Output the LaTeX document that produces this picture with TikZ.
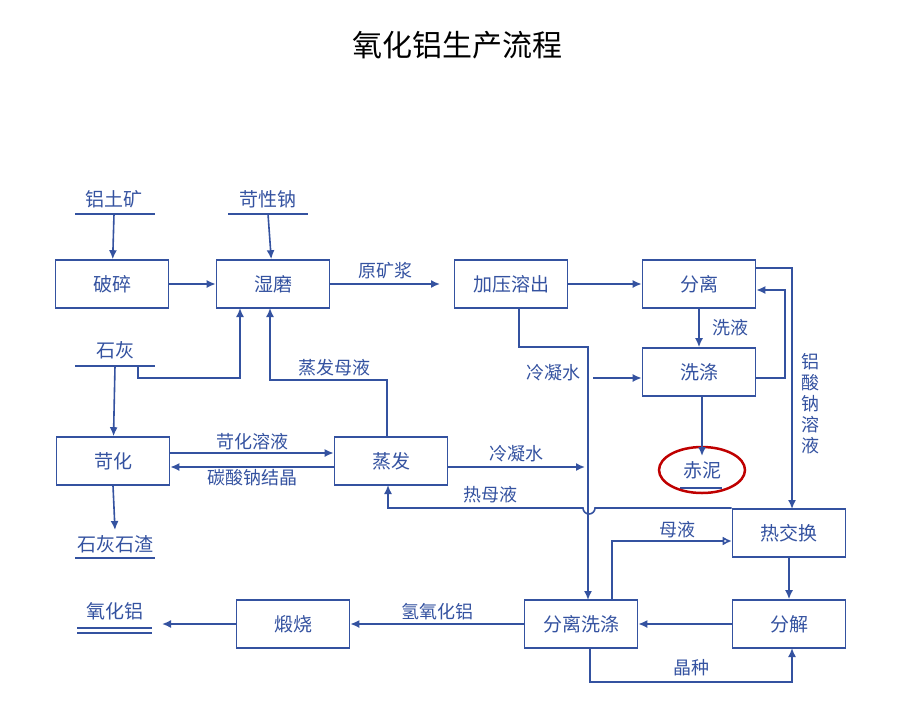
\documentclass[tikz,border=0pt]{standalone}
\usepackage{fontspec}
\setmainfont{Noto Sans CJK SC}
\usetikzlibrary{arrows.meta,calc,positioning}
\definecolor{flow}{RGB}{52,82,160}
\tikzset{
    stage/.style =  {rectangle,
                    draw=flow,
                    fill=white,
                    text=flow,
                    line width=1.6pt,
                    minimum width=113pt,
                    minimum height=48pt,
                    font=\fontsize{19}{19}\selectfont},
    feed/.style =   {text=flow,
                    inner sep=1pt,
                    font=\fontsize{19}{19}\selectfont},
    tag/.style =    {text=flow,
                    inner sep=1pt,
                    font=\fontsize{18}{18}\selectfont},
    line/.style =   {draw=flow,
                    line width=1.6pt},
    -,
    flowto/.style = {line,-{Latex[length=9pt,width=8pt]}},
    opento/.style = {line,-{Latex[open,length=9pt,width=9pt]}}}
\begin{document}
\begin{tikzpicture}[x=1pt,y=-1pt]
    \useasboundingbox (0,0) rectangle (904,720);
    \node[font=\fontsize{30}{30}\selectfont] (title) at (457,45) {氧化铝生产流程};

    \node[stage] (crush)  at (112,284) {破碎};
    \node[stage] (mill)   at (273,284) {湿磨};
    \node[stage] (digest) at (511,284) {加压溶出};
    \node[stage] (sep)    at (699,284) {分离};
    \node[stage] (wash)   at (699,372) {洗涤};
    \node[stage] (caust)  at (113,461) {苛化};
    \node[stage] (evap)   at (391,461) {蒸发};
    \node[stage] (heatx)  at (789,533) {热交换};
    \node[stage] (decomp) at (789,624) {分解};
    \node[stage] (sepwash)at (581,624) {分离洗涤};
    \node[stage] (calc)   at (293,624) {煅烧};

    \node[feed] (bauxite) at (114,199) {铝土矿};
    \node[feed] (soda)    at (268,199) {苛性钠};
    \node[feed] (lime)    at (115,350) {石灰};
    \node[feed] (slag)    at (115,544) {石灰石渣};
    \node[feed] (alumina) at (115,611) {氧化铝};
    \node[feed] (redmud)  at (702,470) {赤泥};

    \draw[line] (75,214) -- (155,214);
    \draw[line] (228,214) -- (308,214);
    \draw[line] (75,366) -- (155,366);
    \draw[line] (75,558) -- (155,558);
    \draw[line] (77,628) -- (152,628) (77,633) -- (152,633);
    \draw[line] (680,488) -- (722,488);
    \draw[red!75!black,line width=2.5pt] (redmud) ellipse (43 and 23);

    \draw[flowto] (bauxite.south |- 0,214) -- (crush);
    \draw[flowto] (soda.south |- 0,214) -- (mill);
    \draw[flowto] (crush) -- (mill);
    \draw[flowto] (mill) -- node[tag,above=3pt] {原矿浆} (440,284);
    \draw[flowto] (digest) -- (sep);
    \draw[flowto] (lime.south |- 0,366) -- (caust);
    \draw[flowto] (138,366) -- (138,378) -- (240,378) -- (240,308);
    \draw[flowto] (387,437) -- (387,380) -- node[tag,above=2pt,pos=0.45] {蒸发母液} (270,380) -- (270,308);
    \draw[flowto] (caust.east |- 0,453) -- node[tag,above=1pt] {苛化溶液} (evap.west |- 0,453);
    \draw[flowto] (evap.west |- 0,467) -- node[tag,below=1pt] {碳酸钠结晶} (caust.east |- 0,467);
    \draw[flowto] (caust.south) -- (115,530);
    \draw[flowto] (evap.east |- 0,467) -- node[tag,above=3pt] {冷凝水} (585,467);
    \draw[flowto] (heatx.north west |- 0,508) -- (595,508) arc (0:180:6) -- (388,508) -- (388,485);
    \node[tag] (hotliq) at (490,495) {热母液};
    \draw[flowto] (519,308) -- (519,347) -- (588,347) -- node[tag,left=6pt,pos=0.1] {冷凝水} (588,600);
    \draw[flowto] (593,378) -- (wash.west |- 0,378);
    \draw[flowto] (sep) -- node[tag,right=12pt] {洗液} (wash);
    \draw[flowto] (wash.east |- 0,378) -- (785,378) -- (785,290) -- (sep.east |- 0,290);
    \draw[flowto] (sep.east |- 0,268) -- (792,268) -- (792,509);
    \node[tag,align=center,font=\fontsize{18}{21}\selectfont] (aluminate) at (810,404) {铝\\酸\\钠\\溶\\液};
    \draw[flowto] (702,396) -- (702,456);
    \draw[opento] (612,600) -- (612,541) -- node[tag,above=1pt,pos=0.55] {母液} (heatx.west |- 0,541);
    \draw[flowto] (heatx) -- (decomp);
    \draw[flowto] (decomp) -- (sepwash);
    \draw[flowto] (590,648) -- (590,682) -- node[tag,above=4pt] {晶种} (792,682) -- (792,648);
    \draw[flowto] (sepwash) -- node[tag,above=2pt] {氢氧化铝} (calc);
    \draw[flowto] (calc) -- (162,624);
\end{tikzpicture}
\end{document}
